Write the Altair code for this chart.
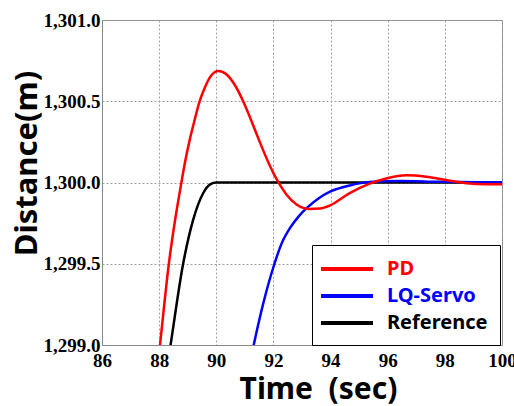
import altair as alt
import pandas as pd

# ---- data ----
series_names = ["PD", "LQ-Servo", "Reference"]
series_colors = ["#ff0000", "#0000ff", "#000000"]

pd_time = [87.90, 88.03, 88.34, 88.55, 88.75, 88.90, 89.08, 89.25, 89.40, 89.60, 89.83, 90.07,
           90.36, 90.65, 90.94, 91.17, 91.52, 91.87, 92.16, 92.46, 92.81, 93.27, 93.62,
           93.97, 94.67, 95.37, 95.95, 96.65, 97.35, 98.05, 98.75, 99.45, 100.0]
pd_dist = [1298.79, 1299.00, 1299.50, 1299.76, 1299.97, 1300.12, 1300.27, 1300.39, 1300.49,
           1300.585, 1300.66, 1300.686, 1300.665, 1300.600, 1300.500, 1300.405, 1300.250,
           1300.105, 1300.005, 1299.925, 1299.865, 1299.837, 1299.840, 1299.858, 1299.935,
           1299.993, 1300.025, 1300.045, 1300.036, 1300.015, 1299.996, 1299.990, 1299.990]

lq_time = [91.10, 91.31, 91.65, 92.00, 92.30, 92.60, 92.90, 93.20, 93.60, 94.00, 94.67,
           95.37, 96.40, 97.80, 100.0]
lq_dist = [1298.82, 1299.00, 1299.26, 1299.48, 1299.63, 1299.725, 1299.795, 1299.848,
           1299.905, 1299.945, 1299.982, 1300.003, 1300.009, 1300.004, 1300.000]

ref_time = [88.20, 88.40, 88.84, 89.19, 89.54, 89.80, 90.00, 100.0]
ref_dist = [1298.77, 1299.00, 1299.50, 1299.77, 1299.934, 1299.99, 1300.00, 1300.00]

x_ticks = [86, 88, 90, 92, 94, 96, 98, 100]
y_ticks = [1299.0, 1299.5, 1300.0, 1300.5, 1301.0]

rows = []
for name, ts, ds in [("Reference", ref_time, ref_dist),
                     ("LQ-Servo", lq_time, lq_dist),
                     ("PD", pd_time, pd_dist)]:
    for i, (t, d) in enumerate(zip(ts, ds)):
        rows.append({"t": t, "d": d, "s": name, "o": i})
df = pd.DataFrame(rows)

title_font = "Noto Sans"
tick_font = "Liberation Sans Narrow"

label_color_expr = ("datum.value == 'PD' ? '#ff0000' : "
                    "datum.value == 'LQ-Servo' ? '#0000ff' : '#000000'")

chart = alt.Chart(df).mark_line(clip=True, strokeWidth=2.5, interpolate="monotone").encode(
    x=alt.X("t:Q",
            scale=alt.Scale(domain=[86, 100], nice=False, zero=False),
            axis=alt.Axis(values=x_ticks, format="d", title="Time\u00a0 (sec)",
                          titleFont=title_font, titleFontSize=30, titleFontWeight="bold",
                          titleColor="#000000", titleX=216, titleY=53,
                          titleBaseline="alphabetic",
                          labelFont=tick_font, labelFontSize=19, labelFontWeight="bold",
                          labelColor="#000000", labelPadding=6, ticks=False,
                          labelFlush=False, labelOverlap=False,
                          domainColor="#888888", gridColor="#a0a0a0", gridDash=[2, 2])),
    y=alt.Y("d:Q",
            scale=alt.Scale(domain=[1299, 1301], nice=False, zero=False),
            axis=alt.Axis(values=y_ticks, format=",.1f", title="Distance(m)",
                          titleFont=title_font, titleFontSize=31, titleFontWeight="bold",
                          titleColor="#000000", titleX=-75, titleY=143,
                          titleBaseline="middle", titleAngle=-90,
                          labelFont=tick_font, labelFontSize=19, labelFontWeight="bold",
                          labelColor="#000000", labelPadding=2, ticks=False,
                          labelFlush=False, labelOverlap=False,
                          domainColor="#888888", gridColor="#a0a0a0", gridDash=[2, 2])),
    color=alt.Color("s:N",
                    scale=alt.Scale(domain=series_names, range=series_colors),
                    legend=alt.Legend(orient="none", legendX=210, legendY=225, title=None,
                                      direction="vertical", symbolType="M-2.6,0H2.6",
                                      symbolSize=400, symbolStrokeWidth=4,
                                      symbolOffset=11,
                                      strokeColor="#000000", fillColor="#ffffff",
                                      padding=12, rowPadding=5, labelOffset=28,
                                      labelFont=title_font, labelFontSize=20,
                                      labelFontWeight="bold",
                                      labelExpr="datum.label + '\u00a0\u00a0\u00a0\u00a0'",
                                      labelColor={"expr": label_color_expr})),
    order="o:Q",
).properties(
    width=400, height=325,
    autosize="none",
    padding={"left": 102, "top": 20, "right": 12, "bottom": 61},
).configure_view(stroke="#888888", strokeWidth=1)

chart.save("out.html", embed_options={"renderer": "svg", "actions": False})
